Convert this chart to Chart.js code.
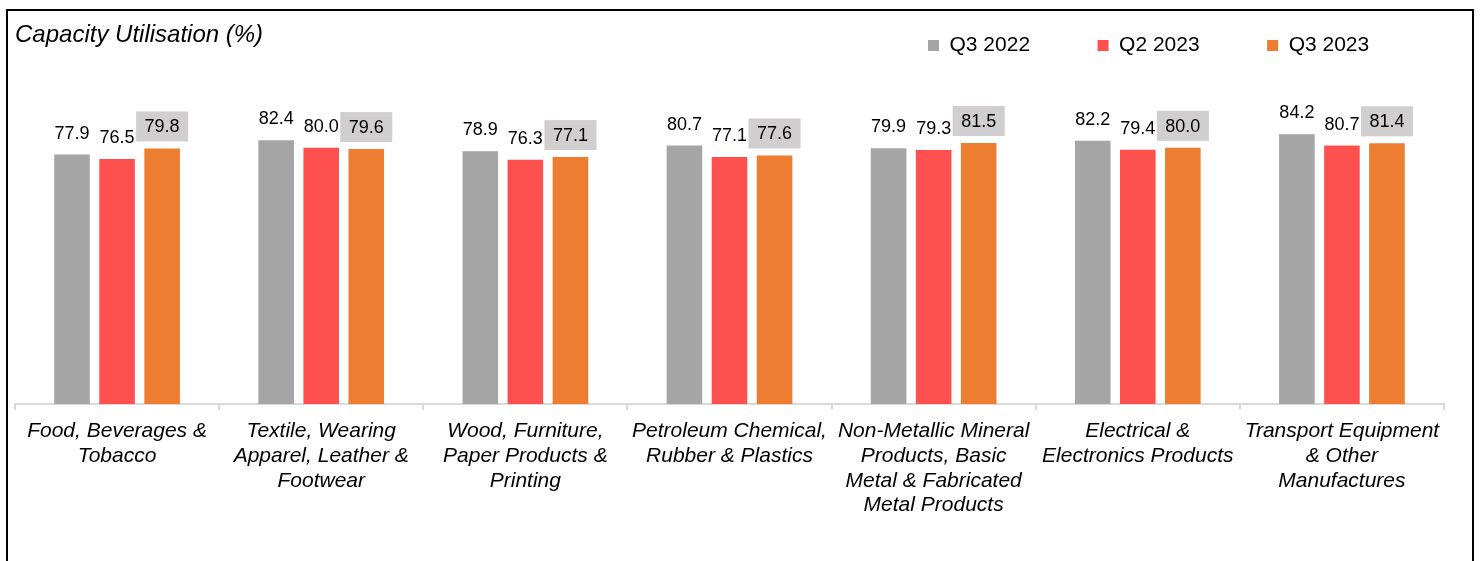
<!DOCTYPE html>
<html>
<head>
<meta charset="utf-8">
<script src="https://cdn.jsdelivr.net/npm/chart.js@4.4.1/dist/chart.umd.min.js"></script>
<style>
  html, body { margin: 0; padding: 0; background: #fff; overflow: hidden; }
  #wrap { position: absolute; left: 0; top: 0; width: 1482px; height: 561px; }
  #frame { position: absolute; left: 6px; top: 9px; width: 1464px; height: 600px; border: 2px solid #000; pointer-events: none; }
</style>
</head>
<body>
<div id="wrap"><canvas id="myChart"></canvas></div>
<div id="frame"></div>
<script>
'use strict';

//Chart data
let categories = [
  ['Food, Beverages &', 'Tobacco'],
  ['Textile, Wearing', 'Apparel, Leather &', 'Footwear'],
  ['Wood, Furniture,', 'Paper Products &', 'Printing'],
  ['Petroleum Chemical,', 'Rubber & Plastics'],
  ['Non-Metallic Mineral', 'Products, Basic', 'Metal & Fabricated', 'Metal Products'],
  ['Electrical &', 'Electronics Products'],
  ['Transport Equipment', '& Other', 'Manufactures']
];
let seriesNames = ['Q3 2022', 'Q2 2023', 'Q3 2023'];
let q3_2022 = [77.9, 82.4, 78.9, 80.7, 79.9, 82.2, 84.2];
let q2_2023 = [76.5, 80.0, 76.3, 77.1, 79.3, 79.4, 80.7];
let q3_2023 = [79.8, 79.6, 77.1, 77.6, 81.5, 80.0, 81.4];
let seriesColors = ['#a5a5a5', '#ff5050', '#ed7d31'];

let fontFamily = 'Arial, "Liberation Sans", sans-serif';

// draws the value above each bar, the last series gets a grey box
let valueLabels = {
  id: 'valueLabels',
  afterDatasetsDraw(chart) {
    let ctx = chart.ctx;
    ctx.save();
    ctx.font = '18px ' + fontFamily;
    ctx.textAlign = 'center';
    ctx.textBaseline = 'middle';
    chart.data.datasets.forEach((ds, i) => {
      let meta = chart.getDatasetMeta(i);
      meta.data.forEach((bar, j) => {
        let text = ds.data[j].toFixed(1);
        let y = bar.y - 22;
        if (i === 2) {
          let w = ctx.measureText(text).width + 17;
          ctx.fillStyle = '#d0cece';
          ctx.fillRect(bar.x - w / 2, y - 15, w, 30);
        }
        ctx.fillStyle = '#000';
        ctx.fillText(text, bar.x, y + 1);
      });
    });
    ctx.restore();
  }
};

// legend sits in the bottom layout slot (eaten by negative padding),
// here it gets moved up next to the title
let legendPlace = {
  id: 'legendPlace',
  afterLayout(chart) {
    let legend = chart.legend;
    let pad = legend.options.labels.padding;
    legend.left = 928 - pad;
    legend.right = 1480;
    legend.top = 35 - pad;
  }
};

let ctx = document.getElementById('myChart').getContext('2d');
let myChart = new Chart(ctx, { // eslint-disable-line
  type: 'bar',
  data: {
    labels: categories,
    datasets: [
      { label: seriesNames[0], data: q3_2022, backgroundColor: seriesColors[0], borderWidth: 0 },
      { label: seriesNames[1], data: q2_2023, backgroundColor: seriesColors[1], borderWidth: 0 },
      { label: seriesNames[2], data: q3_2023, backgroundColor: seriesColors[2], borderWidth: 0 }
    ]
  },
  options: {
    responsive: true,
    maintainAspectRatio: false,
    animation: false,
    categoryPercentage: 0.662,
    barPercentage: 0.79,
    layout: {
      padding: { left: 15, right: 38, top: 0, bottom: -64.5 }
    },
    plugins: {
      title: {
        display: true,
        text: 'Capacity Utilisation (%)',
        align: 'start',
        color: '#000',
        font: { family: fontFamily, size: 24, style: 'italic', weight: 'normal', lineHeight: 1.2 },
        padding: { top: 21, bottom: 34 }
      },
      legend: {
        position: 'bottom',
        align: 'start',
        labels: {
          color: '#000',
          boxWidth: 11,
          boxHeight: 11,
          padding: 67.5,
          font: { family: fontFamily, size: 21 }
        }
      },
      tooltip: { enabled: false }
    },
    scales: {
      x: {
        border: { display: true, color: '#d9d9d9', width: 2 },
        grid: {
          display: true,
          drawOnChartArea: false,
          drawTicks: true,
          tickLength: 6,
          color: '#d9d9d9',
          lineWidth: 2,
          offset: true
        },
        ticks: {
          color: '#000',
          padding: 9,
          maxRotation: 0,
          minRotation: 0,
          autoSkip: false,
          font: { family: fontFamily, size: 21, style: 'italic', lineHeight: 1.18 }
        }
      },
      y: {
        display: false,
        beginAtZero: true,
        min: 0,
        max: 100
      }
    }
  },
  plugins: [valueLabels, legendPlace]
});
</script>
</body>
</html>
